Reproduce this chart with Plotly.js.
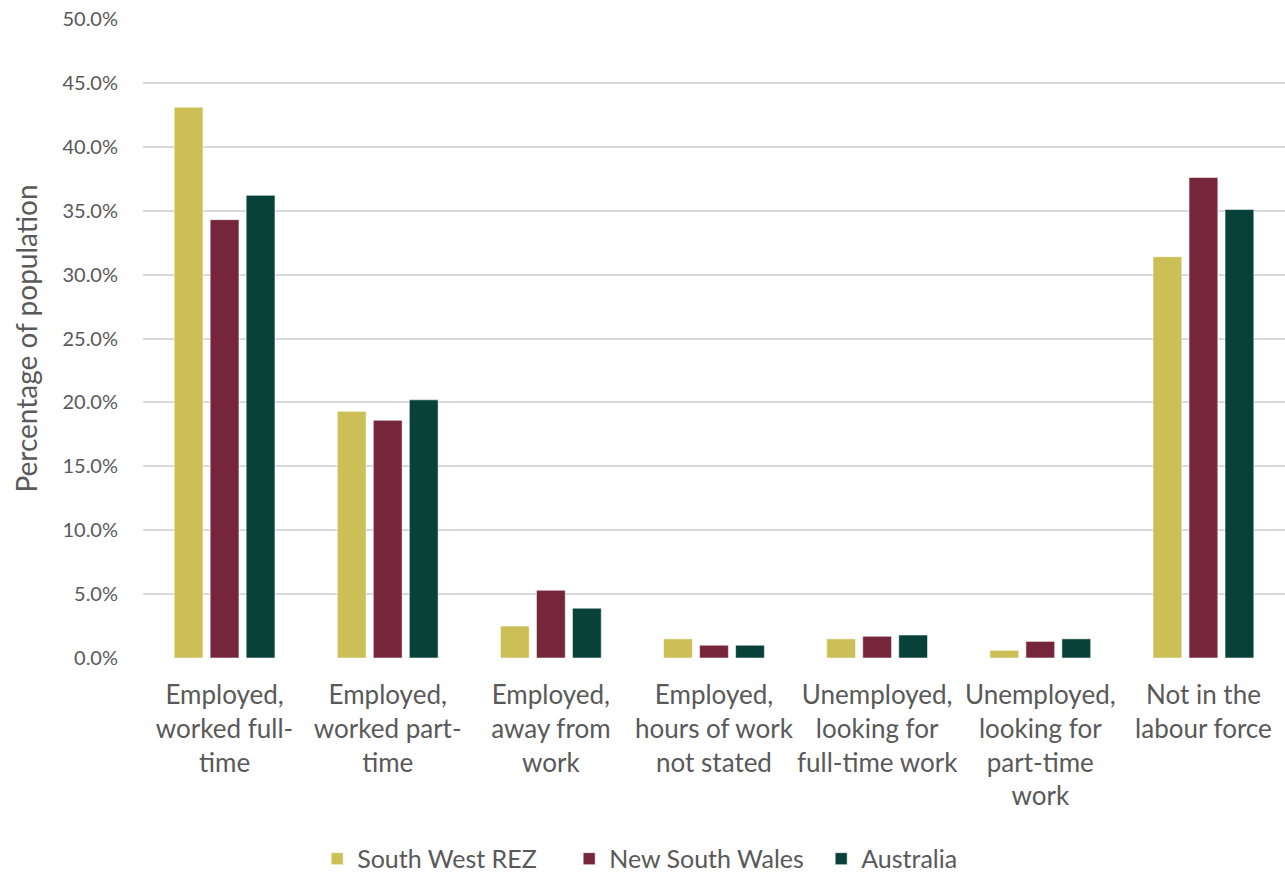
<!DOCTYPE html>
<html>
<head>
<meta charset="utf-8">
<script src="https://cdn.plot.ly/plotly-3.0.1.min.js"></script>
<style>
  html, body { margin: 0; padding: 0; background: #ffffff; }
  #chart { width: 1285px; height: 872px; }
</style>
</head>
<body>
<div id="chart"></div>
<script>
// Labour force status, share of population (%)
const categories = [
  "Employed,<br>worked full-<br>time",
  "Employed,<br>worked part-<br>time",
  "Employed,<br>away from<br>work",
  "Employed,<br>hours of work<br>not stated",
  "Unemployed,<br>looking for<br>full-time work",
  "Unemployed,<br>looking for<br>part-time<br>work",
  "Not in the<br>labour force"
];
const southWestREZ   = [43.1, 19.3, 2.5, 1.5, 1.5, 0.6, 31.4];
const newSouthWales  = [34.3, 18.6, 5.3, 1.0, 1.7, 1.3, 37.6];
const australia      = [36.2, 20.2, 3.9, 1.0, 1.8, 1.5, 35.1];

const seriesNames  = ["South West REZ", "New South Wales", "Australia"];
const seriesColors = ["#CBBF55", "#76263B", "#08403A"];
const seriesValues = [southWestREZ, newSouthWales, australia];

const textColor = "#595959";
const fontFamily = "Lato, 'Noto Sans', sans-serif";

const traces = seriesValues.map((vals, i) => ({
  type: "bar",
  name: seriesNames[i],
  x: categories,
  y: vals,
  marker: {
    color: seriesColors[i],
    line: { color: "rgba(255,255,255,0.55)", width: 1 }
  },
  hoverinfo: "skip"
}));

const layout = {
  width: 1285,
  height: 872,
  margin: { l: 143, r: 0, t: 19, b: 214 },
  paper_bgcolor: "#ffffff",
  plot_bgcolor: "#ffffff",
  font: { family: fontFamily, color: textColor, size: 20 },
  barmode: "group",
  bargap: 0.338,
  bargroupgap: 0.2,
  showlegend: true,
  legend: {
    orientation: "h",
    xref: "container",
    yref: "container",
    x: 0.541,
    xanchor: "center",
    y: 0.015,
    yanchor: "middle",
    entrywidth: 207,
    entrywidthmode: "pixels",
    font: { size: 25, color: textColor },
    traceorder: "normal"
  },
  xaxis: {
    type: "category",
    showgrid: false,
    showline: false,
    zeroline: false,
    ticks: "",
    ticklabelstandoff: 19,
    tickfont: { size: 26, color: textColor },
    automargin: false
  },
  yaxis: {
    range: [0, 50],
    dtick: 5,
    tick0: 0,
    tickformat: ".1f",
    ticksuffix: "%",
    showgrid: true,
    gridcolor: "#d9d9d9",
    gridwidth: 2,
    zeroline: false,
    showline: false,
    ticks: "",
    ticklabelstandoff: 24,
    tickfont: { size: 20, color: textColor },
    automargin: true,
    title: {
      text: "Percentage of population",
      standoff: 16,
      font: { size: 28, color: textColor }
    }
  }
};

Plotly.newPlot("chart", traces, layout, { displayModeBar: false, staticPlot: true });
</script>
</body>
</html>
